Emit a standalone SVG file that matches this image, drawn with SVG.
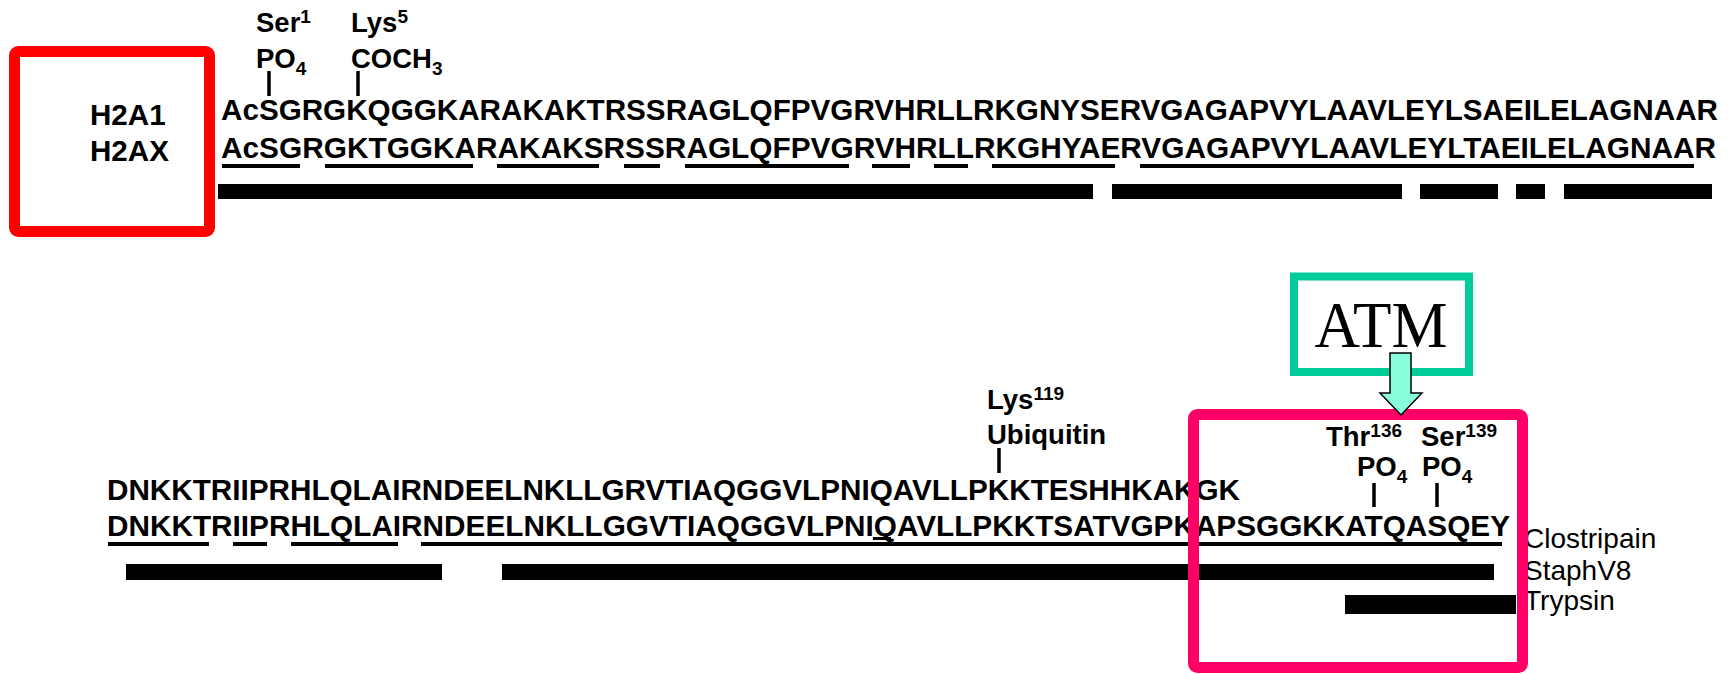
<svg xmlns="http://www.w3.org/2000/svg" width="1731" height="674" viewBox="0 0 1731 674">
  <style>
    .seq { font-family: "Liberation Sans", Arial, sans-serif; font-weight: bold; font-size: 29.6px; fill: #000; }
    .lbl { font-family: "Liberation Sans", Arial, sans-serif; font-weight: bold; font-size: 27.5px; fill: #000; }
    .enz { font-family: "Liberation Sans", Arial, sans-serif; font-size: 28px; fill: #000; }
    .atm { font-family: "Liberation Serif", "Times New Roman", serif; font-size: 66px; fill: #000; }
    .sup { font-size: 19px; }
    .tick { stroke: #000; stroke-width: 3.5; }
    .ul { fill: #000; }
    .bar { fill: #000; }
  </style>
  <rect width="1731" height="674" fill="#fff"/>

  <!-- upper block: residues 1-73 -->
  <g id="variant-labels">
    <text class="seq" x="90" y="125">H2A1</text>
    <text class="seq" x="90" y="161">H2AX</text>
  </g>

  <g id="mod-ser1">
    <text class="lbl" x="256" y="32">Ser<tspan class="sup" dy="-9">1</tspan></text>
    <text class="lbl" x="256" y="68">PO<tspan class="sup" dy="7">4</tspan></text>
    <line class="tick" x1="269" y1="71" x2="269" y2="96"/>
  </g>
  <g id="mod-lys5">
    <text class="lbl" x="351" y="32">Lys<tspan class="sup" dy="-9">5</tspan></text>
    <text class="lbl" x="351" y="68">COCH<tspan class="sup" dy="7">3</tspan></text>
    <line class="tick" x1="358" y1="71" x2="358" y2="96"/>
  </g>

  <g id="seq-top">
    <text class="seq" x="221" y="120" textLength="1497" lengthAdjust="spacingAndGlyphs">AcSGRGKQGGKARAKAKTRSSRAGLQFPVGRVHRLLRKGNYSERVGAGAPVYLAAVLEYLSAEILELAGNAAR</text>
    <text class="seq" x="221" y="158" textLength="1495" lengthAdjust="spacingAndGlyphs">AcSGRGKTGGKARAKAKSRSSRAGLQFPVGRVHRLLRKGHYAERVGAGAPVYLAAVLEYLTAEILELAGNAAR</text>
  </g>

  <g id="fragments-top">
    <rect class="ul" x="222" y="164" width="78" height="4"/>
    <rect class="ul" x="325" y="164" width="148" height="4"/>
    <rect class="ul" x="497" y="164" width="102" height="4"/>
    <rect class="ul" x="624" y="164" width="36" height="4"/>
    <rect class="ul" x="685" y="164" width="164" height="4"/>
    <rect class="ul" x="872" y="164" width="38" height="4"/>
    <rect class="ul" x="934" y="164" width="34" height="4"/>
    <rect class="ul" x="992" y="164" width="123" height="4"/>
    <rect class="ul" x="1140" y="164" width="554" height="4"/>
    <rect class="bar" x="218" y="184" width="875" height="15"/>
    <rect class="bar" x="1112" y="184" width="290" height="15"/>
    <rect class="bar" x="1420" y="184" width="78" height="15"/>
    <rect class="bar" x="1516" y="184" width="29" height="15"/>
    <rect class="bar" x="1564" y="184" width="148" height="15"/>
  </g>

  <g id="box-variants">
    <rect x="14.5" y="51.5" width="195" height="180" rx="4" fill="none" stroke="#ff0000" stroke-width="11"/>
  </g>

  <!-- lower block: residues 74-142 -->
  <g id="mod-lys119">
    <text class="lbl" x="987" y="409">Lys<tspan class="sup" dy="-9">119</tspan></text>
    <text class="lbl" x="987" y="444">Ubiquitin</text>
    <line class="tick" x1="999" y1="448" x2="999" y2="473"/>
  </g>

  <g id="mod-thr136">
    <text class="lbl" x="1326" y="446">Thr<tspan class="sup" dy="-9">136</tspan></text>
    <text class="lbl" x="1357" y="476">PO<tspan class="sup" dy="7">4</tspan></text>
    <line class="tick" x1="1374" y1="483" x2="1374" y2="507"/>
  </g>
  <g id="mod-ser139">
    <text class="lbl" x="1421" y="446">Ser<tspan class="sup" dy="-9">139</tspan></text>
    <text class="lbl" x="1422" y="476">PO<tspan class="sup" dy="7">4</tspan></text>
    <line class="tick" x1="1437" y1="483" x2="1437" y2="507"/>
  </g>

  <g id="seq-bottom">
    <text class="seq" x="107" y="500" textLength="1133" lengthAdjust="spacingAndGlyphs">DNKKTRIIPRHLQLAIRNDEELNKLLGRVTIAQGGVLPNIQAVLLPKKTESHHKAKGK</text>
    <text class="seq" x="107" y="536" textLength="1403" lengthAdjust="spacingAndGlyphs">DNKKTRIIPRHLQLAIRNDEELNKLLGGVTIAQGGVLPNIQAVLLPKKTSATVGPKAPSGGKKATQASQEY</text>
  </g>

  <g id="fragments-bottom">
    <rect class="ul" x="108" y="542" width="101" height="4"/>
    <rect class="ul" x="233" y="542" width="34" height="4"/>
    <rect class="ul" x="291" y="542" width="107" height="4"/>
    <rect class="ul" x="421" y="542" width="1081" height="4"/>
    <rect class="ul" x="873" y="537" width="18" height="3"/>
    <rect class="bar" x="126" y="564" width="316" height="16"/>
    <rect class="bar" x="502" y="564" width="992" height="16"/>
    <rect class="bar" x="1345" y="595" width="171" height="19"/>
  </g>

  <g id="enzymes">
    <text class="enz" x="1524" y="548">Clostripain</text>
    <text class="enz" x="1524" y="580">StaphV8</text>
    <text class="enz" x="1524" y="610">Trypsin</text>
  </g>

  <g id="box-c-terminus">
    <rect x="1193.5" y="414.5" width="329" height="253" rx="4" fill="none" stroke="#ff0066" stroke-width="11"/>
  </g>

  <g id="atm">
    <rect x="1294" y="276.5" width="175" height="95.5" fill="#fff" stroke="#00cc99" stroke-width="8"/>
    <text class="atm" x="1381" y="347" text-anchor="middle" textLength="133" lengthAdjust="spacingAndGlyphs">ATM</text>
  </g>

  <g id="connectors">
    <polygon points="1390,353 1411,353 1411,393 1422,393 1401,415 1380,393 1390,393" fill="#88ffdd" stroke="#000" stroke-width="1.5" stroke-linejoin="miter"/>
  </g>
</svg>
